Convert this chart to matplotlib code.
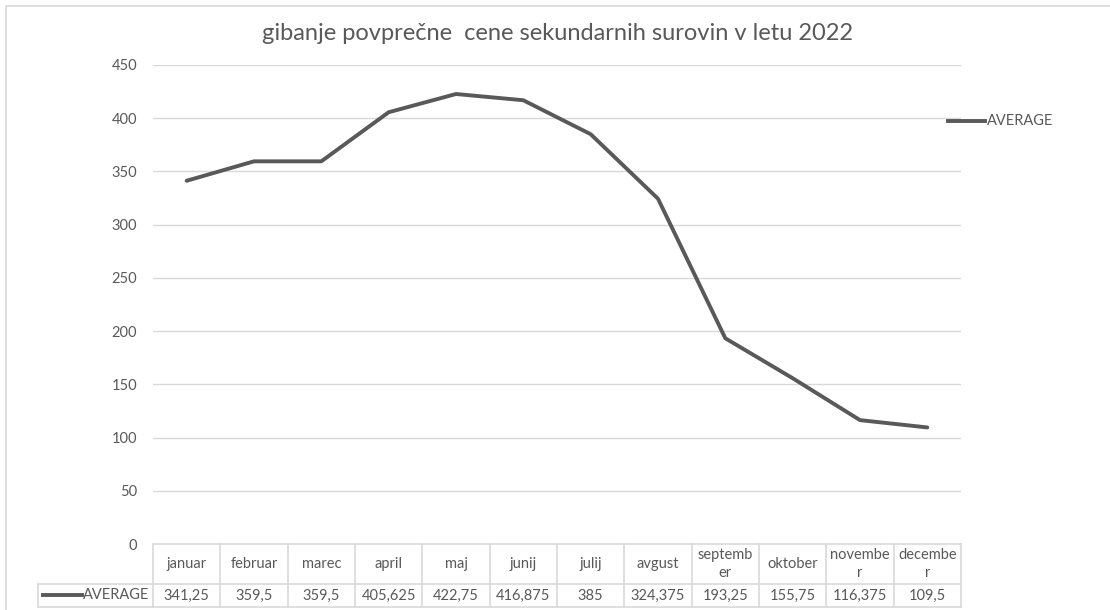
import matplotlib
matplotlib.use("Agg")
import matplotlib.pyplot as plt
from matplotlib.patches import Rectangle
from matplotlib.lines import Line2D
import matplotlib.transforms as mtransforms

# ---- data ----
months = ["januar", "februar", "marec", "april", "maj", "junij", "julij",
          "avgust", "septemb\ner", "oktober", "novembe\nr", "decembe\nr"]
average = [341.25, 359.5, 359.5, 405.625, 422.75, 416.875, 385,
           324.375, 193.25, 155.75, 116.375, 109.5]
value_labels = ["341,25", "359,5", "359,5", "405,625", "422,75", "416,875", "385",
                "324,375", "193,25", "155,75", "116,375", "109,5"]
yticks = [0, 50, 100, 150, 200, 250, 300, 350, 400, 450]
series_name = "AVERAGE"
title = "gibanje povprečne  cene sekundarnih surovin v letu 2022"

FONT = "Lato"
TXT = "#595959"
LINE = "#595959"
GRID = "#d9d9d9"

W, H = 1110, 610
fig = plt.figure(figsize=(W / 100, H / 100), dpi=100)
plt.rcParams["font.family"] = [FONT, "DejaVu Sans"]

def fx(px):
    return px / W

def fy(py):
    return 1 - py / H

# outer chart border
fig.patches.append(Rectangle((fx(6), fy(620)), fx(1120), fy(6) - fy(620),
                             transform=fig.transFigure, fill=False,
                             edgecolor="#d9d9d9", linewidth=1.2))

left, right, top, bottom = 153, 961, 65, 544
ax = fig.add_axes([fx(left), fy(bottom), fx(right - left), fy(top) - fy(bottom)])

x = list(range(len(months)))
ax.plot(x, average, color=LINE, linewidth=2.8, solid_capstyle="round",
        solid_joinstyle="round", zorder=3)
ax.set_xlim(-0.5, len(months) - 0.5)
ax.set_ylim(0, 450)
ax.set_yticks(yticks)
ax.set_yticklabels([str(v) for v in yticks], color=TXT, fontsize=10.5)
ax.tick_params(axis="y", length=0, pad=11.5)
ax.tick_params(axis="x", length=0, labelbottom=False)
ax.set_xticks([])
for s in ax.spines.values():
    s.set_visible(False)
for v in yticks[1:]:
    ax.axhline(v, color=GRID, linewidth=1, zorder=1)

# title
fig.text(0.5 * (fx(258) + fx(858)), fy(34), title, ha="center", va="center",
         fontsize=17, color=TXT)

# legend (right)
fig.lines.append(Line2D([fx(948), fx(985)], [fy(121), fy(121)],
                        transform=fig.transFigure, color=LINE, linewidth=2.8))
fig.text(fx(987), fy(121), series_name, ha="left", va="center",
         fontsize=10.5, color=TXT)

# data table built in data (x) / pixel (y) coordinates
trans = mtransforms.blended_transform_factory(ax.transData, fig.transFigure)
y_top, y_mid, y_bot = fy(544), fy(584), fy(607)
tl = dict(transform=trans, color=GRID, linewidth=1.2, clip_on=False)
ax.add_line(Line2D([-0.5, len(months) - 0.5], [y_top, y_top], **tl))
ax.add_line(Line2D([-0.5, len(months) - 0.5], [y_mid, y_mid], **tl))
ax.add_line(Line2D([-0.5, len(months) - 0.5], [y_bot, y_bot], **tl))
for i in range(len(months) + 1):
    ax.add_line(Line2D([i - 0.5, i - 0.5], [y_top, y_bot], **tl))
for i, (m, v) in enumerate(zip(months, value_labels)):
    ax.text(i, (y_top + y_mid) / 2, m, transform=trans, ha="center", va="center",
            fontsize=10.5, color=TXT, linespacing=1.3)
    ax.text(i, (y_mid + y_bot) / 2, v, transform=trans, ha="center", va="center",
            fontsize=10.5, color=TXT)

# first (legend key) cell of the table
ft = dict(transform=fig.transFigure, color=GRID, linewidth=1.2)
fig.lines.append(Line2D([fx(38), fx(153)], [y_mid, y_mid], **ft))
fig.lines.append(Line2D([fx(38), fx(153)], [y_bot, y_bot], **ft))
fig.lines.append(Line2D([fx(38), fx(38)], [y_mid, y_bot], **ft))
fig.lines.append(Line2D([fx(43), fx(82)], [fy(595), fy(595)],
                        transform=fig.transFigure, color=LINE, linewidth=2.8))
fig.text(fx(149), fy(595), series_name, ha="right", va="center",
         fontsize=10.5, color=TXT)

fig.savefig("out.png", dpi=100)
